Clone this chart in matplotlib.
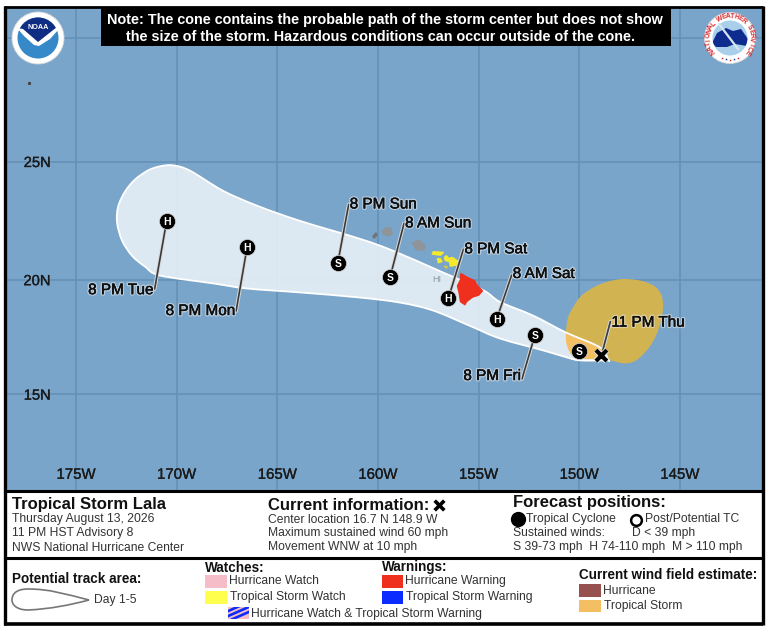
import numpy as np
import matplotlib
matplotlib.use("Agg")
import matplotlib.pyplot as plt
import matplotlib.patheffects as pe
from matplotlib.patches import Rectangle, Circle, Polygon, PathPatch
from matplotlib.path import Path

plt.rcParams['font.family'] = ['Liberation Sans', 'DejaVu Sans']

# ---------- data ----------
lon_ticks = [-175, -170, -165, -160, -155, -150, -145]
lon_labels = ['175W', '170W', '165W', '160W', '155W', '150W', '145W']
lat_ticks = [15, 20, 25, 30]
lat_labels = ['15N', '20N', '25N', '']

fc_lon = [-150.0, -152.2, -154.1, -156.5, -159.4, -162.0, -166.5, -170.5]
fc_lat = [16.9, 17.6, 18.3, 19.2, 20.1, 20.7, 21.4, 22.5]
fc_cat = ['S', 'S', 'H', 'H', 'S', 'S', 'H', 'H']
fc_time = ['', '8 PM Fri', '8 AM Sat', '8 PM Sat', '8 AM Sun', '8 PM Sun', '8 PM Mon', '8 PM Tue']

cur_lon, cur_lat, cur_time = -148.9, 16.7, '11 PM Thu'

cone_lon = [-148.57, -148.97, -150.66, -152.3, -153.94, -154.78, -156.77, -159.25, -160.9, -163.87,
            -166.0, -167.7, -169.34, -170.18, -170.83, -171.42, -172.07, -172.57, -172.91, -172.96,
            -172.71, -172.22, -171.57, -170.83, -168.19, -166.5, -163.87, -160.9, -158.9, -157.27,
            -155.43, -153.94, -151.8, -150.61, -149.96, -148.62]
cone_lat = [16.52, 17.06, 17.71, 18.45, 19.04, 19.55, 20.31, 21.24, 21.75, 22.51,
            23.15, 23.78, 24.62, 24.84, 24.80, 24.63, 24.25, 23.74, 23.11, 22.43,
            21.67, 21.03, 20.56, 20.18, 19.84, 19.62, 19.45, 19.23, 19.01, 18.67,
            18.0, 17.45, 16.93, 16.62, 16.49, 16.49]

wind_lon = [-147.83, -148.4, -148.97, -149.47, -149.96, -150.31, -150.56, -150.66, -150.61, -150.21, -148.97,
            -148.47, -147.83, -147.38, -146.98, -146.49, -146.14, -145.94, -145.84, -145.9, -146.2, -146.7, -147.23]
wind_lat = [20.03, 19.96, 19.8, 19.58, 19.25, 18.8, 18.36, 17.71, 17.14, 16.62, 16.53,
            16.49, 16.36, 16.4, 16.62, 17.1, 17.67, 18.23, 18.8, 19.3, 19.68, 19.9, 20.0]

hawaii_lon = [-155.88, -155.6, -155.2, -155.07, -154.81, -155.0, -155.3, -155.6, -155.68, -155.9, -155.97, -156.05, -155.9]
hawaii_lat = [20.26, 20.12, 19.95, 19.75, 19.52, 19.33, 19.25, 19.05, 18.92, 19.05, 19.45, 19.73, 20.0]
maui_lon = [-156.7, -156.6, -156.5, -156.3, -156.0, -156.1, -156.4, -156.45, -156.65]
maui_lat = [20.95, 21.03, 20.92, 20.95, 20.78, 20.63, 20.58, 20.78, 20.82]
molokai_lon = [-157.3, -157.25, -156.75, -156.9]
molokai_lat = [21.1, 21.2, 21.17, 21.05]
lanai_lon = [-157.05, -156.9, -156.82, -157.0]
lanai_lat = [20.9, 20.9, 20.78, 20.73]
kahoolawe_lon = [-156.7, -156.55, -156.6]
kahoolawe_lat = [20.58, 20.55, 20.5]
oahu_lon = [-158.28, -158.1, -157.7, -157.65, -158.0]
oahu_lat = [21.57, 21.3, 21.27, 21.45, 21.7]
kauai_lon = [-159.78, -159.6, -159.35, -159.3, -159.45, -159.7]
kauai_lat = [22.05, 22.22, 22.2, 21.97, 21.87, 21.93]
niihau_lon = [-160.25, -160.1, -160.05, -160.2]
niihau_lat = [21.85, 22.0, 21.9, 21.78]

note_lines = ['Note: The cone contains the probable path of the storm center but does not show',
              'the size of the storm. Hazardous conditions can occur outside of the cone.']
info_title = 'Tropical Storm Lala'
info_lines = ['Thursday August 13, 2026', '11 PM HST Advisory 8', 'NWS National Hurricane Center']
current_lines = ['Center location 16.7 N 148.9 W', 'Maximum sustained wind 60 mph', 'Movement WNW at 10 mph']

# ---------- colours ----------
OCEAN = '#79A5CB'
GRID = '#6490B6'
PINK, YELLOW, RED, BLUE, BROWN, ORANGE = '#F4BDC8', '#FFFF4D', '#F0301E', '#0A2CFF', '#96504E', '#F4BE63'


def merc(lat):
    lat = np.radians(np.asarray(lat, dtype=float))
    return np.log(np.tan(np.pi / 4 + lat / 2))


def imerc(y):
    return np.degrees(2 * np.arctan(np.exp(np.asarray(y, dtype=float))) - np.pi / 2)


def smooth(xs, ys):
    """Closed outline through the read points, with rounded corners (Bezier segments)."""
    p = np.column_stack([xs, ys])
    n = len(p)
    verts, codes = [p[0]], [Path.MOVETO]
    for i in range(n):
        p0, p1, p2, p3 = p[i - 1], p[i], p[(i + 1) % n], p[(i + 2) % n]
        verts += [p1 + (p2 - p0) / 6, p2 - (p3 - p1) / 6, p2]
        codes += [Path.CURVE4] * 3
    return Path(np.array(verts), codes)


fig = plt.figure(figsize=(7.68, 6.29), dpi=100, facecolor='white')
W, H = 768, 629

# ---------- map ----------
mx0, mx1, my0, my1 = 5, 762, 8, 490
ax = fig.add_axes([mx0 / W, 1 - my1 / H, (mx1 - mx0) / W, (my1 - my0) / H])
ax.set_facecolor(OCEAN)
ax.set_yscale('function', functions=(merc, imerc))
ax.set_xlim(-178.53, -140.92)
ax.set_ylim(10.72, 31.2)
ax.set_xticks(lon_ticks, lon_labels)
ax.set_yticks(lat_ticks, lat_labels)
ax.minorticks_off()
ax.grid(True, color=GRID, lw=1.1, zorder=1)
ax.set_axisbelow(True)
ax.tick_params(axis='x', direction='in', pad=-16, length=0, labelsize=10.8, labelcolor='#1A1A1A')
ax.tick_params(axis='y', direction='in', pad=-33, length=0, labelsize=10.6, labelcolor='#1A1A1A')
for lab in ax.get_xticklabels() + ax.get_yticklabels():
    lab.set_path_effects([pe.withStroke(linewidth=0.2, foreground='#1A1A1A')])
for s in ax.spines.values():
    s.set_visible(False)

cone_path = smooth(cone_lon, cone_lat)
wind_path = smooth(wind_lon, wind_lat)
ax.add_patch(PathPatch(wind_path, fc='#DDB545', ec='none', alpha=0.9, zorder=2))
cone = PathPatch(cone_path, fc='#E9F1F7', ec='none', alpha=0.9, zorder=3)
ax.add_patch(cone)
wind_in = PathPatch(wind_path, fc=ORANGE, ec='none', zorder=3.1)
ax.add_patch(wind_in)
wind_in.set_clip_path(cone)
ax.add_patch(PathPatch(cone_path, fc='none', ec='white', lw=1.3, zorder=3.2))

for lons, lats, col in [(hawaii_lon, hawaii_lat, RED), (maui_lon, maui_lat, '#F5E92C'),
                        (molokai_lon, molokai_lat, '#F5E92C'), (lanai_lon, lanai_lat, '#F5E92C'),
                        (kahoolawe_lon, kahoolawe_lat, '#D5C93C'), (oahu_lon, oahu_lat, '#8E9498'),
                        (kauai_lon, kauai_lat, '#8E9498'), (niihau_lon, niihau_lat, '#6E7478')]:
    ax.add_patch(Polygon(np.column_stack([lons, lats]), closed=True, fc=col, ec=col, lw=1.0, joinstyle='round', zorder=4))
ax.plot([-177.35], [28.2], 's', ms=1.2, color='#444444', zorder=4)
ax.text(-157.1, 20.0, 'HI', fontsize=6.5, color='#8C98A4', ha='center', va='center', zorder=4)

halo = [pe.withStroke(linewidth=2.2, foreground='#E8E8E8', alpha=0.55), pe.withStroke(linewidth=0.2, foreground='#111111')]
line_halo = [pe.withStroke(linewidth=2.6, foreground='#D8D8D8')]

offsets = [None, (-13, -44), (15, 44), (15, 49), (14, 54), (11, 59), (-11, -64), (-12, -68)]
text_offsets = [None, (-14, -41), (16, 45), (16, 49), (15, 54), (12, 59), (-12, -64), (-13, -69)]


def leader(lon, lat, off, toff, label):
    ax.annotate('', xy=(lon, lat), xytext=off, textcoords='offset pixels', zorder=5,
                arrowprops=dict(arrowstyle='-', color='#3A3A3A', lw=1.2, shrinkA=0, shrinkB=0,
                                path_effects=line_halo))
    ax.annotate(label, xy=(lon, lat), xytext=toff, textcoords='offset pixels', fontsize=11,
                color='#111111', ha='left' if toff[0] > 0 else 'right', va='center', zorder=7,
                path_effects=halo)


for lon, lat, t, o, to in zip(fc_lon, fc_lat, fc_time, offsets, text_offsets):
    if t:
        leader(lon, lat, o, to, t)
leader(cur_lon, cur_lat, (9, 34), (10, 33), cur_time)

ax.scatter(fc_lon, fc_lat, s=135, c='black', edgecolors='#D8D8D8', linewidths=0.5, zorder=6)
for lon, lat, c in zip(fc_lon, fc_lat, fc_cat):
    ax.text(lon, lat, c, color='white', fontsize=7.5, fontweight='bold', ha='center', va='center_baseline', zorder=7)
ax.scatter([cur_lon], [cur_lat], s=62, marker='x', c='black', linewidths=3, zorder=7,
           path_effects=[pe.withStroke(linewidth=4.2, foreground='#F0F0F0')])

# ---------- overlay in pixels ----------
ov = fig.add_axes([0, 0, 1, 1], facecolor='none')
ov.set_xlim(0, W)
ov.set_ylim(H, 0)
ov.axis('off')


def T(x, y, s, size=8.7, weight='normal', color='#333333', **kw):
    kw.setdefault('ha', 'left')
    kw.setdefault('va', 'center')
    return ov.text(x, y, s, fontsize=size, fontweight=weight, color=color, **kw)


def swatch(x, y, w, h, c):
    return ov.add_patch(Rectangle((x, y), w, h, fc=c, ec='none'))


# Note box
ov.add_patch(Rectangle((101, 8), 570, 38, fc='black', ec='none'))
T(384.5, 20, note_lines[0], size=10.35, color='white', ha='center', weight='bold')
T(380, 37, note_lines[1], size=10.35, color='white', ha='center', weight='bold')

# NOAA logo
ov.add_patch(Circle((38, 38), 26, fc='white', ec='#D8D8D8', lw=0.6))
disc = Circle((38, 38), 20.5, fc='#3589C8', ec='none')
ov.add_patch(disc)
navy = Polygon([(15, 15), (61, 15), (61, 26), (38, 43), (15, 26)], closed=True, fc='#0F2D83', ec='none')
ov.add_patch(navy)
navy.set_clip_path(disc)
bird = Polygon([(17, 28), (23, 29), (38, 42), (57, 27), (59, 29), (50, 39), (39, 46), (34, 45), (24, 36)],
               closed=True, fc='white', ec='none')
ov.add_patch(bird)
T(38, 27.5, 'NOAA', size=5.2, color='white', ha='center', weight='bold')

# NWS logo
ov.add_patch(Circle((730, 38), 25.5, fc='white', ec='#D8D8D8', lw=0.6))
nws_disc = Circle((730, 38), 17.5, fc='#A9CFEA', ec='none')
ov.add_patch(nws_disc)
land = Polygon([(712, 43), (717, 33), (726, 28), (733, 31), (741, 29), (748, 39), (747, 46), (735, 44), (727, 47), (716, 47)],
               closed=True, fc='#0E2C8E', ec='none')
ov.add_patch(land)
land.set_clip_path(nws_disc)
ov.plot([719, 738], [24, 49], color='#D8E6F2', lw=1.6)
ring = 'NATIONAL WEATHER SERVICE'
for i, ch in enumerate(ring):
    a = np.radians(218 - i * (256 / (len(ring) - 1)))
    ov.text(730 + 21.6 * np.cos(a), 38 - 21.6 * np.sin(a), ch, fontsize=4.9, color='#D8262C', fontweight='bold',
            ha='center', va='center', rotation=np.degrees(a) - 90)
for dx, c in zip([-8, -4, 0, 4, 8], ['#D8262C', '#1A3C9A', '#D8262C', '#1A3C9A', '#D8262C']):
    ov.plot([730 + dx], [59.5 - abs(dx) * 0.15], '*', ms=2, color=c, mew=0)

# Panels
ov.add_patch(Rectangle((5, 490), 757, 68, fc='white', ec='none'))
ov.add_patch(Rectangle((5, 558), 757, 65, fc='white', ec='none'))
for (x0, y0, x1, y1, lw) in [(5, 491, 762, 491, 2.2), (5, 558, 762, 558, 2.2), (4, 624, 763, 624, 2.6),
                             (4.5, 6, 4.5, 625, 2.4), (763, 6, 763, 625, 2.4), (4, 7, 763, 7, 2.0)]:
    ov.plot([x0, x1], [y0, y1], color='black', lw=lw, solid_capstyle='butt')

T(12, 504, info_title, size=12, weight='bold', color='#111111')
for y, s in zip([519, 533, 548], info_lines):
    T(12, y, s)

T(268, 505, 'Current information:', size=12, weight='bold', color='#111111')
ov.scatter([439], [505], s=48, marker='x', c='black', linewidths=2.6)
for y, s in zip([520, 533, 547], current_lines):
    T(268, y, s)

T(513, 503, 'Forecast positions:', size=12, weight='bold', color='#111111')
ov.scatter([518], [519], s=100, c='black')
T(526, 519, 'Tropical Cyclone')
ov.scatter([636], [520], s=60, facecolors='white', edgecolors='black', linewidths=1.8)
T(645, 519, 'Post/Potential TC')
T(513, 533, 'Sustained winds:')
T(632, 533, 'D < 39 mph')
T(513, 547, 'S 39-73 mph  H 74-110 mph  M > 110 mph')

T(12, 579, 'Potential track area:', size=9.75, weight='bold', color='#111111')
icon = Path([(89, 600), (65, 594), (50, 589), (28, 589), (15, 589), (12, 595), (12, 600),
             (12, 605), (17, 610), (28, 610), (50, 609), (70, 605), (89, 600), (89, 600)],
            [Path.MOVETO] + [Path.CURVE4] * 12 + [Path.CLOSEPOLY])
ov.add_patch(PathPatch(icon, fc='white', ec='#777777', lw=1.2))
T(94, 600, 'Day 1-5')

T(205, 568, 'Watches:', size=9.75, weight='bold', color='#111111')
swatch(205, 575, 22, 13, PINK)
T(229, 581.5, 'Hurricane Watch')
swatch(205, 591, 22, 13, YELLOW)
T(230, 597, 'Tropical Storm Watch')
hatch_box = swatch(228, 607, 21, 12, PINK)
for dy in (0, 5, 10):
    bar, = ov.plot([226, 251], [614 + dy - 2, 601 + dy], color=BLUE, lw=1.9, solid_capstyle='butt')
    bar.set_clip_path(hatch_box)
T(251, 614, 'Hurricane Watch & Tropical Storm Warning')

T(382, 567, 'Warnings:', size=9.75, weight='bold', color='#111111')
swatch(382, 575, 21, 13, RED)
T(405, 581, 'Hurricane Warning')
swatch(382, 591, 21, 13, BLUE)
T(406, 597, 'Tropical Storm Warning')

T(579, 575, 'Current wind field estimate:', size=9.75, weight='bold', color='#111111')
swatch(579, 584, 22, 13, BROWN)
T(603, 590.5, 'Hurricane')
swatch(579, 600, 22, 12, ORANGE)
T(604, 606, 'Tropical Storm')

fig.savefig('out.png', dpi=100, facecolor='white')
